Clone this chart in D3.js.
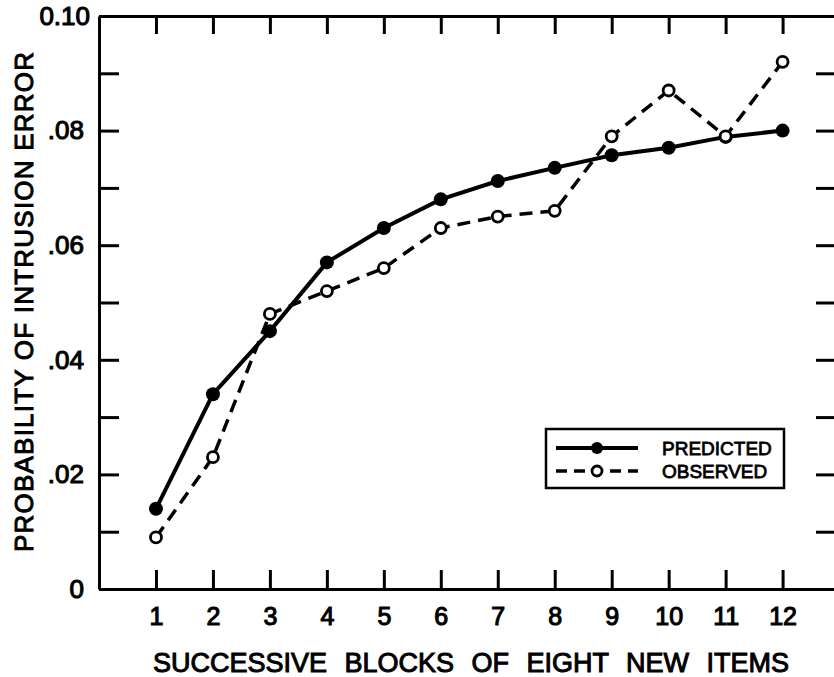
<!DOCTYPE html>
<meta charset="utf-8">
<style>
	body{ margin:0; background:#fff; }
	svg{ font-family:"Liberation Sans", Arial, sans-serif; }
	.axis path, .axis line{ stroke:#000; stroke-width:3; }
	.axis text{ font-size:25px; fill:#000; stroke:#000; stroke-width:1.1; }
	.ytitle, .xtitle{ font-size:26px; stroke:#000; stroke-width:1; }
	.legend text{ font-size:19px; stroke:#000; stroke-width:0.8; }
</style>
<body>
<svg width="834" height="677" id="chart"></svg>
<script src="https://cdn.jsdelivr.net/npm/d3@7"></script>
<script>
	// values
	var blocks = [1, 2, 3, 4, 5, 6, 7, 8, 9, 10, 11, 12];
	var predicted = [0.014, 0.034, 0.045, 0.057, 0.063, 0.068, 0.0712, 0.0735, 0.0757, 0.077, 0.0789, 0.080];
	var observed = [0.009, 0.023, 0.048, 0.052, 0.056, 0.063, 0.065, 0.066, 0.079, 0.087, 0.079, 0.092];
	var yTicks = [0, 0.01, 0.02, 0.03, 0.04, 0.05, 0.06, 0.07, 0.08, 0.09, 0.10];
	var yLabels = ["0", "", ".02", "", ".04", "", ".06", "", ".08", "", "0.10"];
	var seriesNames = ["PREDICTED", "OBSERVED"];

	var svg = d3.select("#chart");
	var plotLeft = 99, plotRight = 835, plotTop = 16, plotBottom = 589;

	var x = d3.scaleLinear().domain([0, 12.92]).range([plotLeft, plotRight]);
	var y = d3.scaleLinear().domain([0, 0.1]).range([plotBottom, plotTop]);

	// frame axes, ticks pointing inward
	svg.append("g").attr("class", "axis")
		.attr("transform", "translate(0," + plotBottom + ")")
		.call(d3.axisBottom(x).tickValues(blocks).tickSizeInner(-19).tickSizeOuter(0).tickPadding(18));

	svg.append("g").attr("class", "axis")
		.attr("transform", "translate(0," + plotTop + ")")
		.call(d3.axisTop(x).tickValues(blocks).tickSizeInner(-18).tickSizeOuter(0).tickFormat(""));

	var yAxis = svg.append("g").attr("class", "axis")
		.attr("transform", "translate(" + plotLeft + ",0)")
		.call(d3.axisLeft(y).tickValues(yTicks).tickSizeInner(-20).tickSizeOuter(0).tickPadding(15)
			.tickFormat(function(d, i){ return yLabels[i]; }));
	yAxis.selectAll("text").style("font-size", "26px");
	yAxis.selectAll(".tick").filter(function(d){ return d === 0.1; }).select("text").attr("x", -9);

	svg.append("g").attr("class", "axis")
		.attr("transform", "translate(" + plotRight + ",0)")
		.call(d3.axisRight(y).tickValues(yTicks.slice(1, 10)).tickSizeInner(-19).tickSizeOuter(0).tickFormat(""));

	// titles
	svg.append("text").attr("class", "xtitle")
		.attr("x", 471).attr("y", 672)
		.attr("text-anchor", "middle")
		.style("font-size", "27px")
		.style("word-spacing", "10px")
		.text("SUCCESSIVE BLOCKS OF EIGHT NEW ITEMS");

	svg.append("text").attr("class", "ytitle")
		.attr("transform", "translate(33,302) rotate(-90)")
		.attr("text-anchor", "middle")
		.attr("textLength", 500)
		.attr("lengthAdjust", "spacing")
		.text("PROBABILITY OF INTRUSION ERROR");

	// lines
	var line = d3.line()
		.x(function(d, i){ return x(blocks[i]); })
		.y(function(d){ return y(d); });

	svg.append("path").datum(observed)
		.attr("d", line)
		.attr("fill", "none").attr("stroke", "#000")
		.attr("stroke-width", 3.5).attr("stroke-dasharray", "13,8");

	svg.append("path").datum(predicted)
		.attr("d", line)
		.attr("fill", "none").attr("stroke", "#000")
		.attr("stroke-width", 4);

	svg.selectAll("circle.pred").data(predicted).enter().append("circle")
		.attr("class", "pred")
		.attr("cx", function(d, i){ return x(blocks[i]); })
		.attr("cy", function(d){ return y(d); })
		.attr("r", 7).attr("fill", "#000");

	svg.selectAll("circle.obs").data(observed).enter().append("circle")
		.attr("class", "obs")
		.attr("cx", function(d, i){ return x(blocks[i]); })
		.attr("cy", function(d){ return y(d); })
		.attr("r", 5.5).attr("fill", "#fff")
		.attr("stroke", "#000").attr("stroke-width", 2.8);

	// legend
	var legend = svg.append("g").attr("class", "legend");
	legend.append("rect")
		.attr("x", 546).attr("y", 429).attr("width", 238).attr("height", 59)
		.attr("fill", "#fff").attr("stroke", "#000").attr("stroke-width", 2.5);

	var rows = legend.selectAll("g.row").data(seriesNames).enter().append("g")
		.attr("class", "row")
		.attr("transform", function(d, i){ return "translate(0," + (448 + i * 23) + ")"; });

	rows.append("line")
		.attr("x1", 556).attr("x2", 638)
		.attr("stroke", "#000")
		.attr("stroke-width", function(d, i){ return i === 0 ? 4 : 3.5; })
		.attr("stroke-dasharray", function(d, i){ return i === 0 ? null : "11,7"; });

	rows.append("circle")
		.attr("cx", 597)
		.attr("r", function(d, i){ return i === 0 ? 6 : 5; })
		.attr("fill", function(d, i){ return i === 0 ? "#000" : "#fff"; })
		.attr("stroke", "#000").attr("stroke-width", function(d, i){ return i === 0 ? 0 : 2.8; });

	rows.append("text")
		.attr("x", 662).attr("y", 7)
		.text(function(d){ return d; });
</script>
</body>
